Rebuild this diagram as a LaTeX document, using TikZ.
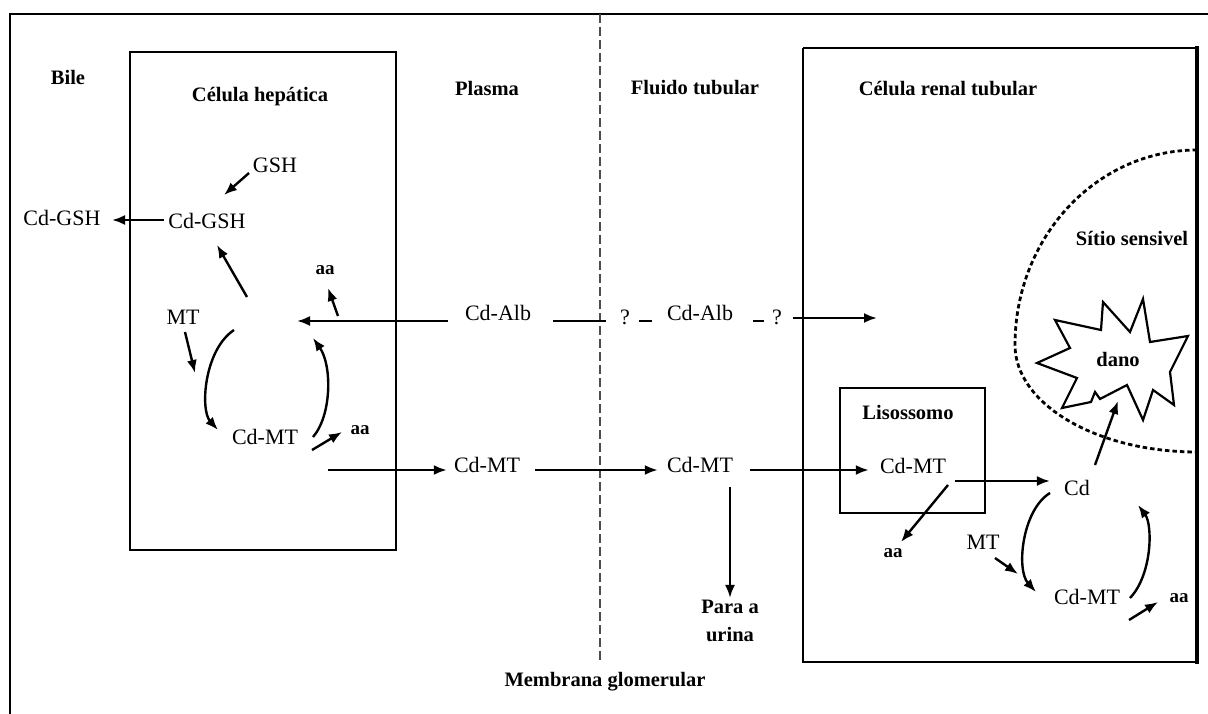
\documentclass[tikz,border=0pt]{standalone}
\usepackage{fontspec}
\setmainfont{Liberation Serif}
\usetikzlibrary{arrows.meta}
\begin{document}
\begin{tikzpicture}[x=1pt,y=-1pt,
  chem/.style={inner sep=2pt,font=\fontsize{22}{26}\selectfont},
  ttl/.style={inner sep=2pt,font=\bfseries\fontsize{20.5}{28}\selectfont,align=center},
  sm/.style={inner sep=1pt,font=\bfseries\fontsize{19}{22}\selectfont},
  arr/.style={line width=2.4pt,-{Latex[length=13pt,width=10pt]}},
  ln/.style={line width=2.4pt},
  cellbox/.style={line width=2.6pt},
  membrane/.style={line width=1.8pt,draw=black!70,dash pattern=on 9pt off 4pt},
  dotline/.style={line width=2.8pt,dash pattern=on 4.5pt off 3pt},
]
\useasboundingbox (0,0) rectangle (1208,714);
\fill[white] (0,0) rectangle (1208,714);
% outer frame
\draw[line width=2.4pt] (10,714) -- (10,14) -- (1208,14);
% cells
\draw[cellbox] (130,52) rectangle (396,550);
\draw[cellbox] (803,48) -- (1197,48);
\draw[cellbox] (803,48) -- (803,662) -- (1197,662);
\draw[line width=4pt] (1197,46) -- (1197,664);
\draw[line width=2.4pt] (840,388) rectangle (985,513);
% glomerular membrane
\draw[membrane] (600,14) -- (600,662);
% sensitive site
\draw[dotline] (1197,150) .. controls (1096.5,150) and (1015,237) .. (1015,345)
  .. controls (1015,404) and (1096.5,452) .. (1197,452);
% damage starburst
\draw[line width=2.2pt,fill=white] (1037,363) -- (1070,348) -- (1055,320) -- (1101,330) -- (1103,302)
  -- (1130,332) -- (1143,299) -- (1150,342) -- (1188,336) -- (1170,372) -- (1174,405)
  -- (1153,390) -- (1143,420) -- (1127,385) -- (1100,399) -- (1095,392) -- (1091,402)
  -- (1062,408) -- (1077,378) -- cycle;

% titles
\node[ttl] (bile) at (68,77) {Bile};
\node[ttl] (hep) at (260,97) {Célula hepática};
\node[ttl] (plasma) at (487,88) {Plasma};
\node[ttl] (fluid) at (695,88) {Fluido tubular};
\node[ttl] (renal) at (948,89) {Célula renal tubular};
\node[ttl] (sitio) at (1132,238) {Sítio sensivel};
\node[ttl] (lis) at (908,412) {Lisossomo};
\node[ttl] (dano) at (1118,359) {dano};
\node[ttl] (memb) at (605,682) {Membrana glomerular};
\node[ttl] (urina) at (730,621) {Para a\\urina};

% chemical labels
\node[chem] (gsh) at (275,165) {GSH};
\node[chem] (cdgshin) at (207,221) {Cd-GSH};
\node[chem] (cdgshout) at (62,218) {Cd-GSH};
\node[sm] (aa1) at (325,270) {aa};
\node[chem] (mt1) at (183,317) {MT};
\node[chem] (cdmt1) at (265,437) {Cd-MT};
\node[sm] (aa2) at (360,430) {aa};
\node[chem] (cdalb1) at (498,313) {Cd-Alb};
\node[chem] (q1) at (625,317) {?};
\node[chem] (cdalb2) at (700,313) {Cd-Alb};
\node[chem] (q2) at (777,317) {?};
\node[chem] (cdmt2) at (487,465) {Cd-MT};
\node[chem] (cdmt3) at (700,465) {Cd-MT};
\node[chem] (cdmt4) at (913,466) {Cd-MT};
\node[chem] (cd) at (1077,488) {Cd};
\node[sm] (aa3) at (893,553) {aa};
\node[chem] (mt2) at (983,542) {MT};
\node[chem] (cdmt5) at (1087,597) {Cd-MT};
\node[sm] (aa4) at (1179,598) {aa};

% coordinates for free ends
\coordinate (gshS) at (249,173);  \coordinate (gshE) at (224,195);
\coordinate (bileE) at (112,220);
\coordinate (upS) at (247,297);   \coordinate (upE) at (217,245);
\coordinate (aa1S) at (338,316);  \coordinate (aa1E) at (328,288);
\coordinate (albS) at (448,321);  \coordinate (hepin) at (297,321);
\coordinate (mt1S) at (185,332);  \coordinate (mt1E) at (195,373);
\coordinate (l1S) at (234,330);   \coordinate (l1E) at (218,430);
\coordinate (r1S) at (313,437);   \coordinate (r1E) at (313,338);
\coordinate (aa2S) at (312,450);  \coordinate (aa2E) at (342,432);
\coordinate (hepout) at (328,470);
\coordinate (alb1E) at (606,321);
\coordinate (d1S) at (639,321);   \coordinate (d1E) at (652,321);
\coordinate (d2S) at (753,321);   \coordinate (d2E) at (764,321);
\coordinate (q2S) at (793,318);   \coordinate (renin) at (877,318);
\coordinate (lysout) at (955,481);
\coordinate (aa3S) at (948,485);  \coordinate (aa3E) at (901,542);
\coordinate (mt2S) at (995,558);  \coordinate (mt2E) at (1018,574);
\coordinate (l2S) at (1050,493);  \coordinate (l2E) at (1036,592);
\coordinate (r2S) at (1130,598);  \coordinate (r2E) at (1138,505);
\coordinate (aa4S) at (1129,620); \coordinate (aa4E) at (1158,602);
\coordinate (danoS) at (1095,465); \coordinate (danoE) at (1118,401);
\coordinate (urinaS) at (730,487);

% hepatic cell connectors
\draw[arr] (gshS) -- (gshE);
\draw[arr] ([xshift=-2pt]cdgshin.west |- bileE) -- (bileE);
\draw[arr] (upS) -- (upE);
\draw[arr] (aa1S) -- (aa1E);
\draw[arr] (albS) -- (hepin);
\draw[arr] (mt1S) -- (mt1E);
\draw[arr] (l1S) .. controls (204,350) and (200,410) .. (l1E);
\draw[arr] (r1S) .. controls (332,415) and (332,365) .. (r1E);
\draw[arr] (aa2S) -- (aa2E);
\draw[arr] (hepout) -- ([xshift=-5pt]cdmt2.west |- hepout);
% plasma / tubular fluid
\draw[arr] ([xshift=13pt]cdmt2.east |- hepout) -- ([xshift=-7pt]cdmt3.west |- hepout);
\draw[ln] ([xshift=20pt]cdalb1.east |- alb1E) -- (alb1E);
\draw[ln] (d1S) -- (d1E);
\draw[ln] (d2S) -- (d2E);
\draw[arr] (q2S) -- (renin);
\draw[arr] ([xshift=15pt]cdmt3.east |- hepout) -- ([xshift=-9pt]cdmt4.west |- hepout);
\draw[arr] (urinaS) -- (urina.north);
% renal cell
\draw[arr] (lysout) -- ([xshift=-12pt]cd.west |- lysout);
\draw[arr] (aa3S) -- (aa3E);
\draw[arr] (mt2S) -- (mt2E);
\draw[arr] (l2S) .. controls (1022,510) and (1016,570) .. (l2E);
\draw[arr] (r2S) .. controls (1152,575) and (1153,525) .. (r2E);
\draw[arr] (aa4S) -- (aa4E);
\draw[arr] (danoS) -- (danoE);
\end{tikzpicture}
\end{document}
